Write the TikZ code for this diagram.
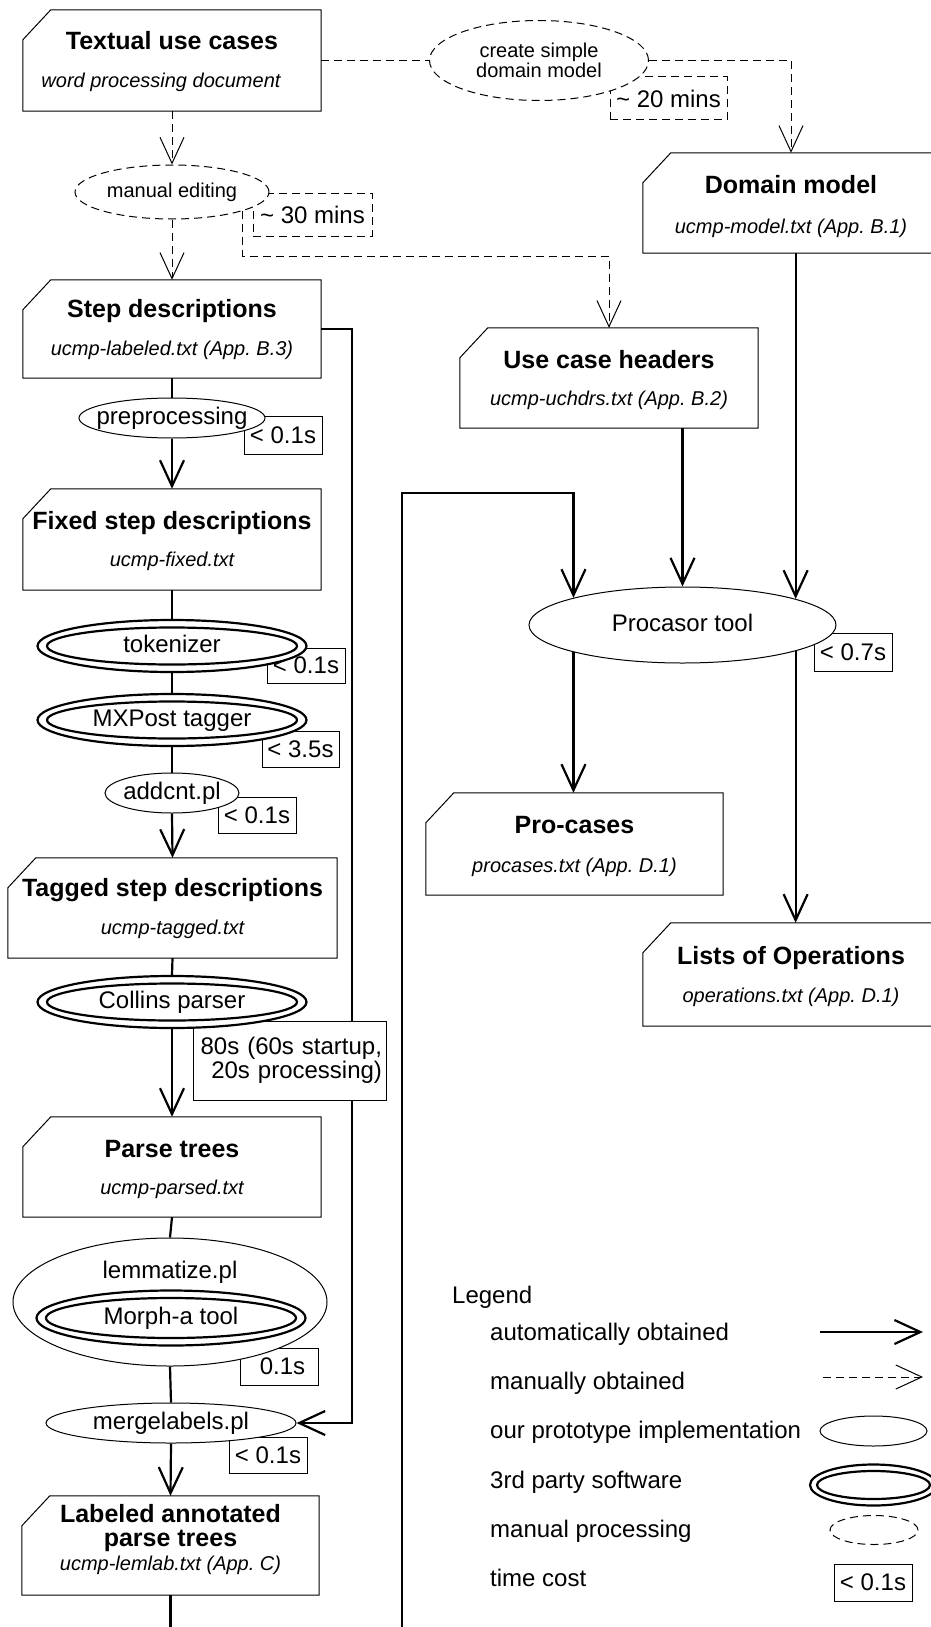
\documentclass[tikz,border=0pt]{standalone}
\usepackage{fontspec}
\setmainfont{Liberation Sans}
\usetikzlibrary{arrows.meta,shapes.geometric,calc}
\pgfdeclarelayer{wires}
\pgfsetlayers{wires,main}
\frenchspacing
% centred single-line label of zero width with a fixed strut
\newcommand\lbl[1]{\makebox[0pt]{\rule[-0.17em]{0pt}{0.92em}#1}}
\begin{document}
\begin{tikzpicture}[x=1pt,y=-1pt,
  every node/.style={inner sep=0pt},
  wire/.style={line width=2.2pt},
  autoflow/.style={wire, -{Straight Barb[length=26pt,width=24pt]}},
  manwire/.style={line width=1pt, dash pattern=on 8pt off 5pt},
  manflow/.style={manwire, -{Straight Barb[length=26pt,width=24pt]}},
  docbox/.style={rectangle, fill=white, minimum width=298pt, minimum height=100pt},
  doctitle/.style={anchor=base, font=\fontsize{25}{28}\selectfont\bfseries},
  docfile/.style={anchor=base, font=\fontsize{20}{24}\selectfont\itshape},
  tool/.style={ellipse, draw, line width=1pt, fill=white, font=\fontsize{24}{26}\selectfont},
  manual/.style={ellipse, draw, line width=1pt, dash pattern=on 8pt off 5pt, fill=white, font=\fontsize{20}{20}\selectfont},
  third/.style={ellipse, draw, line width=2.2pt, fill=white, minimum width=269pt, minimum height=52pt},
  thirdin/.style={ellipse, draw, line width=2.2pt, minimum width=250pt, minimum height=37pt, font=\fontsize{24}{26}\selectfont},
  cost/.style={rectangle, draw, line width=1pt, fill=white, minimum width=78pt, minimum height=37pt, font=\fontsize{24}{26}\selectfont},
  mancost/.style={cost, dash pattern=on 8pt off 5pt},
  legendtext/.style={anchor=base west, font=\fontsize{24}{26}\selectfont},
]
\useasboundingbox (0,0) rectangle (931,1627);
\clip (0,0) rectangle (931,1627);

% ---------- time costs (under the process ellipses) ----------
\node[mancost, minimum width=117pt, minimum height=43pt] (c-dom) at (668.5,98.5) {\textasciitilde{} 20 mins};
\node[mancost, minimum width=119pt, minimum height=43pt] (c-edit) at (312.5,214.5) {\textasciitilde{} 30 mins};
\node[cost, minimum height=38pt] (c-pre) at (283,435) {< 0.1s};
\node[cost, minimum height=35pt] (c-tok) at (306,665.5) {< 0.1s};
\node[cost, minimum width=77pt, minimum height=36pt] (c-mxp) at (300.5,749) {< 3.5s};
\node[cost, minimum height=36pt] (c-add) at (257,815) {< 0.1s};
\node[cost, minimum width=193pt, minimum height=79pt, text width=185pt, align=right,
      font=\fontsize{24}{24.5}\selectfont] (c-col) at (289.5,1060.5) {80s (60s startup,\\ 20s processing)};
\node[cost] (c-lem) at (279,1366.5) {\hspace*{7pt}0.1s};
\node[cost, minimum height=36pt] (c-mrg) at (268,1455) {< 0.1s};
\node[cost, minimum height=38pt] (c-pct) at (853,652) {< 0.7s};

% ---------- processing steps ----------
\node[manual, minimum width=219pt, minimum height=80pt, align=center] (csdm) at (539,60.5) {create simple\\domain model};
\node[manual, minimum width=194pt, minimum height=54pt] (med) at (172,192) {\lbl{manual editing}};
\node[tool, minimum width=186pt, minimum height=40pt] (pre) at (172,418) {\lbl{preprocessing}};
\node[third] (tok) at (172,646) {};
\node[thirdin] (tok-i) at (172,646) {\lbl{tokenizer}};
\node[third] (mxp) at (172,720) {};
\node[thirdin] (mxp-i) at (172,720) {\lbl{MXPost tagger}};
\node[tool, minimum width=134pt, minimum height=40pt] (add) at (172,793) {\lbl{addcnt.pl}};
\node[third] (col) at (172,1002) {};
\node[thirdin] (col-i) at (172,1002) {\lbl{Collins parser}};
\node[tool, minimum width=314pt, minimum height=128pt] (lem) at (170,1302) {};
\node[anchor=base, font=\fontsize{24}{26}\selectfont] (lem-t) at (170,1278) {lemmatize.pl};
\node[third, minimum height=55pt] (mor) at (171,1318) {};
\node[thirdin, minimum height=40pt] (mor-i) at (171,1318) {\lbl{Morph-a tool}};
\node[tool, minimum width=250pt, minimum height=40pt] (mrg) at (171,1423) {\lbl{mergelabels.pl}};
\node[tool, minimum width=307pt, minimum height=76pt] (pct) at (682.5,625) {\lbl{Procasor tool}};

% ---------- documents ----------
\node[docbox, minimum height=101pt] (tuc) at (172,60.5) {};
\node[docbox, minimum width=296pt] (dom) at (791,203) {};
\node[docbox, minimum height=98pt] (step) at (172,329) {};
\node[docbox] (uch) at (609,378) {};
\node[docbox, minimum height=101pt] (fixed) at (172,539.5) {};
\node[docbox, minimum width=329pt] (tag) at (172.5,908) {};
\node[docbox, minimum width=297pt, minimum height=102pt] (proc) at (574.5,844) {};
\node[docbox, minimum width=296pt, minimum height=103pt] (ops) at (791,974.5) {};
\node[docbox] (parse) at (172,1167) {};
\node[docbox, minimum width=297pt, minimum height=99pt] (lab) at (170.5,1545.5) {};

\foreach \b in {tuc,dom,step,uch,fixed,tag,proc,ops,parse,lab}
  \draw[line width=1pt] (\b.south west) -- (\b.south east) -- (\b.north east)
    -- ([xshift=28pt]\b.north west) -- ([yshift=-30pt]\b.north west) -- cycle;

\node[doctitle] (tuc-t) at ($(tuc.north)+(0,40)$) {Textual use cases};
\node[docfile, xshift=-11pt] (tuc-f) at ($(tuc.north)+(0,78)$) {word processing document};
\node[doctitle] (dom-t) at ($(dom.north)+(0,41)$) {Domain model};
\node[docfile] (dom-f) at ($(dom.north)+(0,81)$) {ucmp-model.txt (App. B.1)};
\node[doctitle] (step-t) at ($(step.north)+(0,38)$) {Step descriptions};
\node[docfile] (step-f) at ($(step.north)+(0,76)$) {ucmp-labeled.txt (App. B.3)};
\node[doctitle] (uch-t) at ($(uch.north)+(0,41)$) {Use case headers};
\node[docfile] (uch-f) at ($(uch.north)+(0,78)$) {ucmp-uchdrs.txt (App. B.2)};
\node[doctitle] (fixed-t) at ($(fixed.north)+(0,41)$) {Fixed step descriptions};
\node[docfile] (fixed-f) at ($(fixed.north)+(0,78)$) {ucmp-fixed.txt};
\node[doctitle] (tag-t) at ($(tag.north)+(0,39)$) {Tagged step descriptions};
\node[docfile] (tag-f) at ($(tag.north)+(0,77)$) {ucmp-tagged.txt};
\node[doctitle] (proc-t) at ($(proc.north)+(0,41)$) {Pro-cases};
\node[docfile] (proc-f) at ($(proc.north)+(0,80)$) {procases.txt (App. D.1)};
\node[doctitle] (ops-t) at ($(ops.north)+(0,42)$) {Lists of Operations};
\node[docfile] (ops-f) at ($(ops.north)+(0,80)$) {operations.txt (App. D.1)};
\node[doctitle] (parse-t) at ($(parse.north)+(0,41)$) {Parse trees};
\node[docfile] (parse-f) at ($(parse.north)+(0,78)$) {ucmp-parsed.txt};
\node[doctitle] (lab-t1) at ($(lab.north)+(0,27)$) {Labeled annotated};
\node[doctitle] (lab-t2) at ($(lab.north)+(0,51)$) {parse trees};
\node[docfile] (lab-f) at ($(lab.north)+(0,75)$) {ucmp-lemlab.txt (App. C)};

% ---------- connectors ----------
\begin{pgfonlayer}{wires}
\clip (0,0) rectangle (931,1627);
% manual work
\draw[manwire] (tuc.east) -- (csdm.west);
\draw[manflow] (csdm.east) -| (dom.north);
\draw[manflow] (tuc.south) -- (med.north);
\draw[manflow] (med.south) -- (step.north);
\coordinate (mj) at (609,256);
\draw[manflow] (med.-15.4) |- (mj) -- (uch.north);
% automatic pipeline
\draw[wire] (step.south) -- (pre.north);
\draw[autoflow] (pre.south) -- (fixed.north);
\draw[wire] (fixed.south) -- (tok.north);
\draw[wire] (tok.south) -- (mxp.north);
\draw[wire] (mxp.south) -- (add.north);
\draw[autoflow] (add.south) -- (tag.north);
\draw[wire] (tag.south) -- (col.north);
\draw[autoflow] (col.south) -- (parse.north);
\draw[wire] (parse.south) -- (lem.north);
\draw[wire] (lem.south) -- (mrg.north);
\draw[autoflow] (mrg.south) -- (lab.north);
\coordinate (rail) at (352,900);
\draw[autoflow] (step.east) -| (rail) |- (mrg.east);
\coordinate (lowl) at (170.5,1665);
\coordinate (rise) at (402,493);
\draw[autoflow] (lab.south) -- (lowl) -| (rise) -| (pct.166.1);
\draw[autoflow] (pct.north |- uch.south) -- (pct.north);
\draw[autoflow] (pct.13.9 |- dom.south) -- (pct.13.9);
\draw[autoflow] (pct.-166.1) -- (pct.-166.1 |- proc.north);
\draw[autoflow] (pct.-13.9) -- (pct.-13.9 |- ops.north);
\end{pgfonlayer}

% ---------- legend ----------
\node[legendtext] (lg) at (452,1303) {Legend};
\node[legendtext] (lg1) at (490,1340) {automatically obtained};
\node[legendtext] (lg2) at (490,1389) {manually obtained};
\node[legendtext] (lg3) at (490,1438) {our prototype implementation};
\node[legendtext] (lg4) at (490,1488) {3rd party software};
\node[legendtext] (lg5) at (490,1537) {manual processing};
\node[legendtext] (lg6) at (490,1586) {time cost};
\coordinate (la-s) at (820,1332);
\coordinate (la-e) at (923,1332);
\draw[autoflow] (la-s) -- (la-e);
\coordinate (lm-s) at (823,1377);
\coordinate (lm-e) at (923,1377);
\draw[manflow] (lm-s) -- (lm-e);
\node[tool, minimum width=107pt, minimum height=30pt] (lg-tool) at (873.5,1431) {};
\node[third, minimum width=127pt, minimum height=41pt] (lg-third) at (873.5,1485) {};
\node[thirdin, minimum width=113pt, minimum height=28pt] (lg-thirdin) at (873.5,1485) {};
\node[manual, minimum width=88pt, minimum height=29pt] (lg-man) at (874,1530) {};
\node[cost] (lg-cost) at (873,1582.5) {< 0.1s};
\end{tikzpicture}
\end{document}
